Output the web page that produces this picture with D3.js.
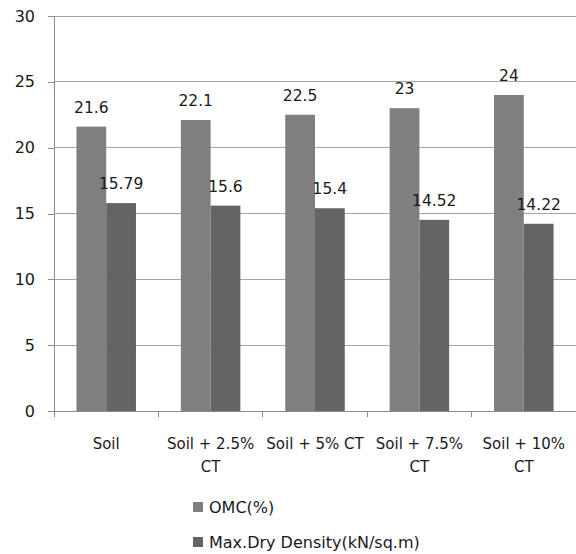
<!DOCTYPE html>
<html>
<head>
<meta charset="utf-8">
<script src="https://cdn.jsdelivr.net/npm/d3@7"></script>
<style>
  body { margin: 0; background: #fff; }
  text { font-family: "DejaVu Sans", sans-serif; fill: #1a1a1a; }
</style>
</head>
<body>
<svg id="chart" width="576" height="554"></svg>
<script>
const categories = [["Soil"], ["Soil + 2.5%", "CT"], ["Soil + 5% CT"], ["Soil + 7.5%", "CT"], ["Soil + 10%", "CT"]];
const seriesNames = ["OMC(%)", "Max.Dry Density(kN/sq.m)"];
const omc = [21.6, 22.1, 22.5, 23, 24];
const density = [15.79, 15.6, 15.4, 14.52, 14.22];
const omcLabels = ["21.6", "22.1", "22.5", "23", "24"];
const densityLabels = ["15.79", "15.6", "15.4", "14.52", "14.22"];
const yTicks = [0, 5, 10, 15, 20, 25, 30];
const colors = ["#7f7f7f", "#646464"];

const svg = d3.select("#chart");
const mLeft = 54, mRight = 576, mTop = 16, mBottom = 411;

const x = d3.scaleBand().domain(d3.range(categories.length)).range([mLeft, mRight]).paddingInner(0).paddingOuter(0);
const inner = d3.scaleBand().domain([0, 1]).range([x.bandwidth() * 0.215, x.bandwidth() * 0.785]);
const y = d3.scaleLinear().domain([0, 30]).range([mBottom, mTop]);

// gridlines
svg.append("g").selectAll("line").data(yTicks.filter(d => d > 0)).join("line")
  .attr("x1", mLeft).attr("x2", mRight)
  .attr("y1", d => y(d)).attr("y2", d => y(d))
  .attr("stroke", "#a6a6a6").attr("stroke-width", 1)
  .attr("shape-rendering", "crispEdges");

// bars
const series = [omc, density];
const labels = [omcLabels, densityLabels];
series.forEach((vals, s) => {
  svg.append("g").selectAll("rect").data(vals).join("rect")
    .attr("x", (d, i) => x(i) + inner(s))
    .attr("width", inner.bandwidth())
    .attr("y", d => y(d))
    .attr("height", d => y(0) - y(d))
    .attr("fill", colors[s]);
  svg.append("g").selectAll("text").data(vals).join("text")
    .attr("x", (d, i) => x(i) + inner(s) + inner.bandwidth() / 2)
    .attr("y", d => y(d) - 14)
    .attr("text-anchor", "middle")
    .attr("font-size", 15.5)
    .text((d, i) => labels[s][i]);
});

// y axis
const yAxis = d3.axisLeft(y).tickValues(yTicks).tickSize(6).tickPadding(13);
const yg = svg.append("g").attr("transform", `translate(${mLeft},0)`).call(yAxis);
yg.selectAll("path, line").attr("stroke", "#8c8c8c").attr("shape-rendering", "crispEdges");
yg.selectAll("text").attr("font-size", 16).attr("font-family", "DejaVu Sans, sans-serif").attr("fill", "#1a1a1a");

// x axis
const xTickPos = d3.range(categories.length + 1).map(i => mLeft + i * x.bandwidth());
const xg = svg.append("g");
xg.append("line").attr("x1", mLeft - 6).attr("x2", mRight).attr("y1", mBottom).attr("y2", mBottom)
  .attr("stroke", "#8c8c8c").attr("shape-rendering", "crispEdges");
xg.selectAll("line.tick").data(xTickPos).join("line").attr("class", "tick")
  .attr("x1", d => d).attr("x2", d => d).attr("y1", mBottom).attr("y2", mBottom + 6)
  .attr("stroke", "#8c8c8c").attr("shape-rendering", "crispEdges");
const cat = xg.selectAll("text").data(categories).join("text")
  .attr("x", (d, i) => x(i) + x.bandwidth() / 2)
  .attr("y", 449)
  .attr("text-anchor", "middle")
  .attr("font-size", 15);
cat.selectAll("tspan").data(d => d).join("tspan")
  .attr("x", function() { return this.parentNode.getAttribute("x"); })
  .attr("dy", (d, i) => i === 0 ? 0 : 23)
  .text(d => d);

// legend
const legend = svg.append("g").selectAll("g").data(seriesNames).join("g")
  .attr("transform", (d, i) => `translate(193, ${507 + i * 35})`);
legend.append("rect").attr("x", 0).attr("y", -5).attr("width", 10).attr("height", 10)
  .attr("fill", (d, i) => colors[i]);
legend.append("text").attr("x", 16).attr("y", 6).attr("font-size", 16).text(d => d);
</script>
</body>
</html>
